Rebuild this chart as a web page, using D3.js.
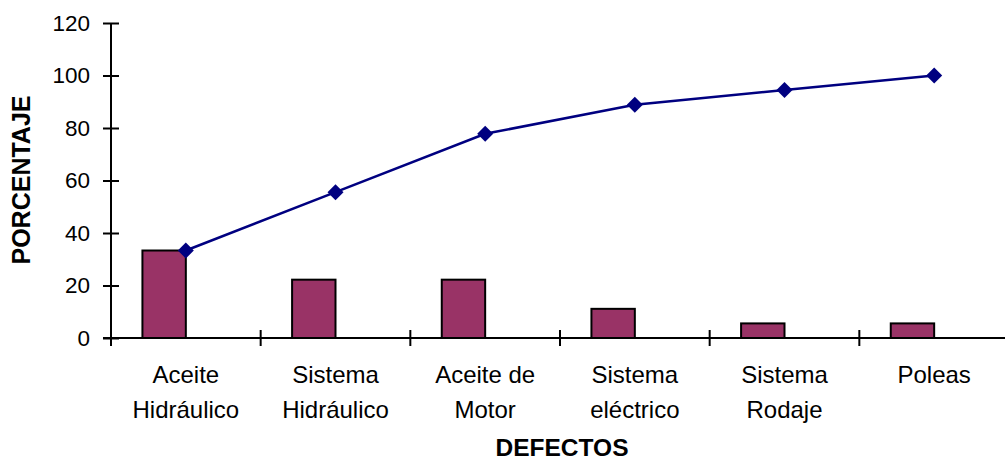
<!DOCTYPE html>
<html>
<head>
<meta charset="utf-8">
<script src="https://cdn.jsdelivr.net/npm/d3@7/dist/d3.min.js"></script>
<style>
  html, body { margin: 0; padding: 0; background: #fff; }
  svg { display: block; font-family: "Liberation Sans", Arial, sans-serif; }
</style>
</head>
<body>
<svg id="chart" width="1005" height="461"></svg>
<script>
// Pareto de defectos: porcentaje por defecto y porcentaje acumulado
const categories = [
  ["Aceite", "Hidráulico"],
  ["Sistema", "Hidráulico"],
  ["Aceite de", "Motor"],
  ["Sistema", "eléctrico"],
  ["Sistema", "Rodaje"],
  ["Poleas"]
];
const percentValues = [33.33, 22.22, 22.22, 11.11, 5.56, 5.56];
const cumulativeValues = [33.33, 55.56, 77.78, 88.89, 94.44, 100];
const yTicks = [0, 20, 40, 60, 80, 100, 120];

const svg = d3.select("#chart");
const plotLeft = 111, plotRight = 1009, plotTop = 23, plotBottom = 338;

const keys = categories.map((c, i) => i);
const x = d3.scaleBand().domain(keys).range([plotLeft, plotRight]).padding(0);
const y = d3.scaleLinear().domain([0, 120]).range([plotBottom, plotTop]);
const center = i => x(i) + x.bandwidth() / 2;
const barW = x.bandwidth() * 0.29;

// Barras
svg.append("g").selectAll("rect")
  .data(percentValues)
  .join("rect")
  .attr("x", (d, i) => center(i) - barW)
  .attr("y", d => y(d))
  .attr("width", barW)
  .attr("height", d => y(0) - y(d))
  .attr("fill", "#993366")
  .attr("stroke", "#000")
  .attr("stroke-width", 2);

// Eje Y
const yAxis = svg.append("g")
  .attr("transform", `translate(${plotLeft},0)`)
  .call(d3.axisLeft(y).tickValues(yTicks).tickSize(8).tickSizeOuter(0).tickPadding(13));
yAxis.select(".domain").attr("stroke", "#000").attr("stroke-width", 2)
  .attr("d", `M0,${plotTop}V${plotBottom}`);
yAxis.selectAll(".tick line").attr("x1", -8).attr("x2", 8)
  .attr("stroke", "#000").attr("stroke-width", 2);
yAxis.selectAll(".tick text").attr("font-size", 22.5).attr("fill", "#000")
  .attr("font-family", "Liberation Sans, Arial, sans-serif");

// Eje X
svg.append("line")
  .attr("x1", plotLeft - 8).attr("x2", plotRight)
  .attr("y1", y(0)).attr("y2", y(0))
  .attr("stroke", "#000").attr("stroke-width", 2);
const bounds = keys.map(i => x(i)).concat([x(keys[keys.length - 1]) + x.bandwidth()]);
svg.append("g").selectAll("line")
  .data(bounds)
  .join("line")
  .attr("x1", d => d).attr("x2", d => d)
  .attr("y1", y(0) - 8).attr("y2", y(0) + 8)
  .attr("stroke", "#000").attr("stroke-width", 2);

const labels = svg.append("g").attr("font-size", 24).attr("fill", "#000")
  .attr("text-anchor", "middle");
categories.forEach((lines, i) => {
  const t = labels.append("text").attr("x", center(i)).attr("y", 383);
  lines.forEach((ln, j) => {
    t.append("tspan").attr("x", center(i)).attr("dy", j === 0 ? 0 : 35).text(ln);
  });
});

// Línea acumulada
const line = d3.line().x((d, i) => center(i)).y(d => y(d));
svg.append("path")
  .datum(cumulativeValues)
  .attr("d", line)
  .attr("fill", "none")
  .attr("stroke", "#000080")
  .attr("stroke-width", 2.5);

const r = 8;
svg.append("g").selectAll("path")
  .data(cumulativeValues)
  .join("path")
  .attr("transform", (d, i) => `translate(${center(i)},${y(d)})`)
  .attr("d", `M0,${-r}L${r},0L0,${r}L${-r},0Z`)
  .attr("fill", "#000080");

// Títulos de ejes
svg.append("text")
  .attr("x", 562).attr("y", 456)
  .attr("text-anchor", "middle")
  .attr("font-size", 24.5).attr("font-weight", "bold")
  .text("DEFECTOS");
svg.append("text")
  .attr("transform", "translate(30,180) rotate(-90)")
  .attr("text-anchor", "middle")
  .attr("font-size", 25).attr("font-weight", "bold")
  .text("PORCENTAJE");
</script>
</body>
</html>
